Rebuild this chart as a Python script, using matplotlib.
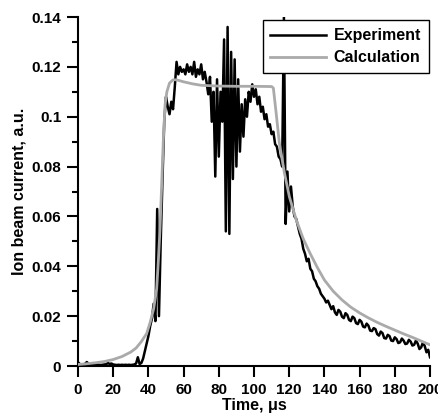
"""
Ion beam current vs time: experiment trace against the calculated pulse.
Writes out.png (438x419 px).
"""

import numpy as np
import matplotlib
matplotlib.use("Agg")
import matplotlib.pyplot as plt
from matplotlib.ticker import MultipleLocator

plt.rcParams["font.family"] = ["Liberation Sans", "DejaVu Sans"]
plt.rcParams["font.weight"] = "bold"

# measured trace, one sample per microsecond (0..200 us)
exp_t = np.arange(0, 201)
exp_v = [
    0.0015, 0.0008, 0.0006, 0.0007, 0.0008, 0.0016, 0.0009, 0.0006, 0.0005, 0.0006,   # 0-9
    0.0005, 0.0006, 0.0005, 0.0004, 0.0005, 0.0006, 0.0007, 0.0012, 0.0008, 0.0010,   # 10-19
    0.0006, 0.0005, 0.0004, 0.0005, 0.0004, 0.0005, 0.0004, 0.0005, 0.0004, 0.0005,   # 20-29
    0.0004, 0.0005, 0.0006, 0.0010, 0.0035, 0.0008, 0.0012, 0.0030, 0.0060, 0.0090,   # 30-39
    0.0120, 0.0160, 0.0190, 0.0250, 0.0180, 0.0630, 0.0200, 0.0500, 0.0750, 0.0980,   # 40-49
    0.1080, 0.1040, 0.1010, 0.1060, 0.1030, 0.1120, 0.1220, 0.1170, 0.1200, 0.1180,   # 50-59
    0.1190, 0.1170, 0.1210, 0.1180, 0.1200, 0.1170, 0.1220, 0.1160, 0.1190, 0.1170,   # 60-69
    0.1210, 0.1150, 0.1180, 0.1140, 0.1090, 0.1160, 0.0980, 0.1100, 0.0760, 0.1150,   # 70-79
    0.0840, 0.1100, 0.0980, 0.1310, 0.0540, 0.1360, 0.0530, 0.1260, 0.0750, 0.1230,   # 80-89
    0.0800, 0.1150, 0.0860, 0.1050, 0.0920, 0.1070, 0.1000, 0.1100, 0.1060, 0.1130,   # 90-99
    0.1080, 0.1110, 0.1050, 0.1080, 0.1020, 0.1040, 0.0990, 0.1010, 0.0960, 0.0970,   # 100-109
    0.0930, 0.0940, 0.0890, 0.0880, 0.0840, 0.0830, 0.0800, 0.1400, 0.0570, 0.0780,   # 110-119
    0.0620, 0.0720, 0.0640, 0.0600, 0.0590, 0.0560, 0.0530, 0.0510, 0.0470, 0.0450,   # 120-129
    0.0420, 0.0430, 0.0390, 0.0380, 0.0350, 0.0340, 0.0320, 0.0310, 0.0290, 0.0280,   # 130-139
    0.0270, 0.0255, 0.0262, 0.0245, 0.0228, 0.0240, 0.0215, 0.0205, 0.0225, 0.0218,   # 140-149
    0.0198, 0.0192, 0.0212, 0.0205, 0.0185, 0.0180, 0.0198, 0.0192, 0.0172, 0.0168,   # 150-159
    0.0185, 0.0178, 0.0158, 0.0155, 0.0170, 0.0162, 0.0142, 0.0140, 0.0152, 0.0148,   # 160-169
    0.0128, 0.0122, 0.0138, 0.0132, 0.0112, 0.0110, 0.0125, 0.0120, 0.0102, 0.0100,   # 170-179
    0.0115, 0.0108, 0.0092, 0.0095, 0.0110, 0.0102, 0.0088, 0.0090, 0.0105, 0.0098,   # 180-189
    0.0082, 0.0085, 0.0102, 0.0090, 0.0068, 0.0075, 0.0095, 0.0080, 0.0055, 0.0065,   # 190-199
    0.0035,                                                                           # 200
]

# calculated pulse
calc_t = [0, 5, 10, 15, 20, 25, 30, 33, 36, 39, 41, 43, 44.7, 45.6, 46.6, 47.5,
          48.5, 49.5, 50.5, 52, 54, 56, 60, 65, 70, 80, 90, 100, 110, 111, 112.6,
          114.4, 117.3, 120.1, 124, 128, 132, 136, 140, 145, 150, 155, 160, 165,
          170, 175, 180, 185, 190, 195, 200]
calc_v = [0.0006, 0.0009, 0.0013, 0.0018, 0.0026, 0.0038, 0.0056, 0.0072, 0.0098,
          0.0130, 0.0175, 0.0230, 0.0310, 0.0415, 0.0550, 0.0720, 0.0910, 0.1050,
          0.1100, 0.1135, 0.1148, 0.1148, 0.1140, 0.1132, 0.1126, 0.1123, 0.1122,
          0.1122, 0.1121, 0.1115, 0.1014, 0.0895, 0.0774, 0.0679, 0.0586, 0.0510,
          0.0450, 0.0395, 0.0345, 0.0300, 0.0265, 0.0236, 0.0213, 0.0193, 0.0175,
          0.0159, 0.0144, 0.0129, 0.0115, 0.0100, 0.0085]

Y_TICKS = [0, 0.02, 0.04, 0.06, 0.08, 0.10, 0.12, 0.14]
Y_LABELS = ["0", "0.02", "0.04", "0.06", "0.08", "0.1", "0.12", "0.14"]
X_TICKS = [0, 20, 40, 60, 80, 100, 120, 140, 160, 180, 200]


def main():
    fig = plt.figure(figsize=(4.38, 4.19), dpi=100)
    ax = fig.add_axes([78 / 438, 53 / 419, 352 / 438, 349 / 419])

    ax.plot(exp_t, exp_v, color="black", lw=1.8, label="Experiment", zorder=2)
    ax.plot(calc_t, calc_v, color="#aaaaaa", lw=2.0, label="Calculation", zorder=3)

    ax.set_xlim(0, 200)
    ax.set_ylim(0, 0.14)
    ax.set_xticks(X_TICKS)
    ax.set_yticks(Y_TICKS)
    ax.set_yticklabels(Y_LABELS)
    ax.yaxis.set_minor_locator(MultipleLocator(0.01))

    for side in ("top", "right"):
        ax.spines[side].set_visible(False)
    for side in ("left", "bottom"):
        ax.spines[side].set_linewidth(1.5)

    ax.tick_params(which="major", direction="out", length=8, width=1.5,
                   labelsize=11, pad=4)
    ax.tick_params(which="minor", direction="out", length=4.5, width=1.5)
    for lab in ax.get_xticklabels() + ax.get_yticklabels():
        lab.set_fontweight("bold")

    ax.set_xlabel("Time, μs", fontsize=11.5, fontweight="bold", labelpad=1)
    ax.set_ylabel("Ion beam current, a.u.", fontsize=11.5, fontweight="bold", labelpad=4)

    leg = ax.legend(loc="upper right", bbox_to_anchor=(0.997, 0.99), borderaxespad=0,
                    fancybox=False, framealpha=1, edgecolor="black",
                    handlelength=3.5, handletextpad=0.45, labelspacing=0.42,
                    borderpad=0.5, prop={"size": 11.5, "weight": "bold"})
    leg.get_frame().set_linewidth(1.0)

    fig.savefig("out.png", dpi=100)
    plt.close(fig)


if __name__ == "__main__":
    main()
